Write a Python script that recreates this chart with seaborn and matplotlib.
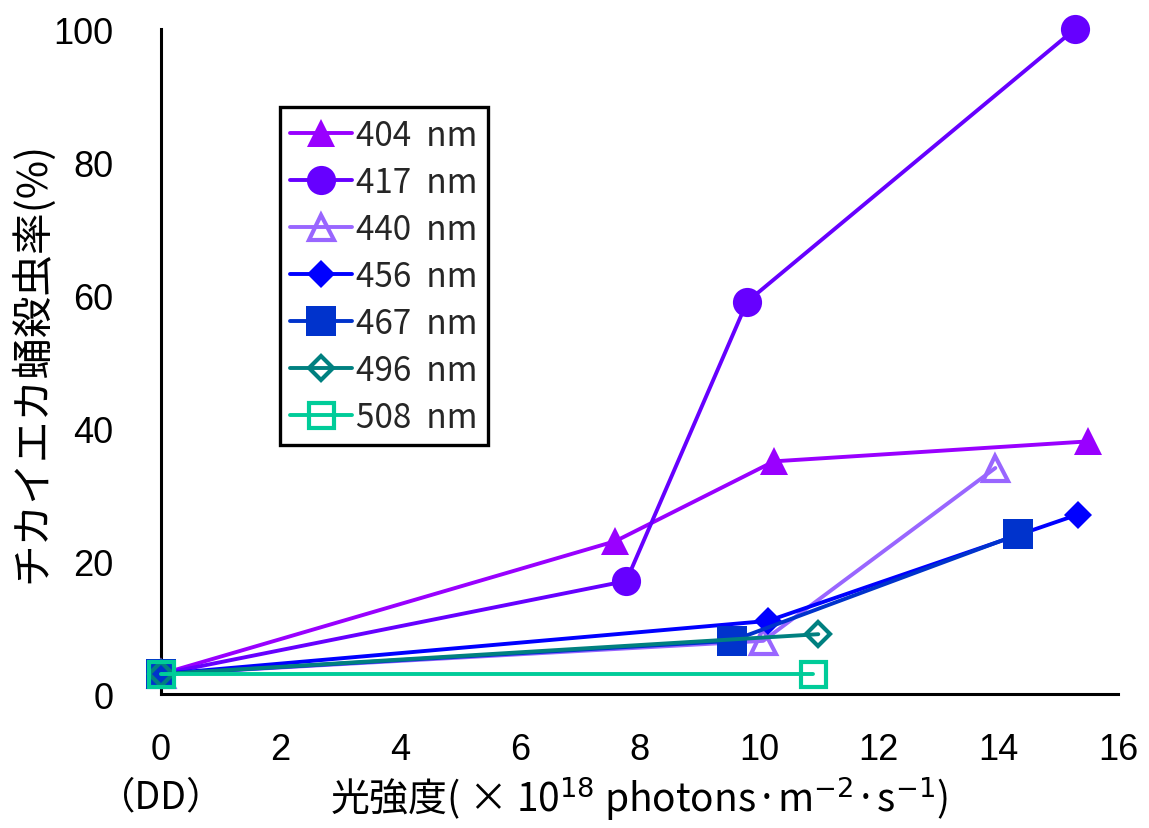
import matplotlib
matplotlib.use("Agg")
import matplotlib.pyplot as plt
import seaborn as sns
import pandas as pd

sns.set_theme(style="white")
plt.rcParams['font.family'] = ['Noto Sans CJK JP', 'DejaVu Sans']
plt.rcParams['mathtext.fontset'] = 'dejavusans'

# ---- data ----
labels = ["404 nm", "417 nm", "440 nm", "456 nm", "467 nm", "496 nm", "508 nm"]
x_404 = [0, 7.6, 10.25, 15.5]
y_404 = [3, 23, 35, 38]
x_417 = [0, 7.78, 9.8, 15.28]
y_417 = [3, 17, 59, 100]
x_440 = [0, 10.07, 13.95]
y_440 = [3, 8, 34]
x_456 = [0, 10.15, 15.33]
y_456 = [3, 11, 27]
x_467 = [0, 9.55, 14.33]
y_467 = [3, 8, 24]
x_496 = [0, 10.99]
y_496 = [3, 9]
x_508 = [0, 10.9]
y_508 = [3, 3]
xticks = [0, 2, 4, 6, 8, 10, 12, 14, 16]
yticks = [0, 20, 40, 60, 80, 100]

series = [
    (x_404, y_404, dict(color="#9900FF", marker="^", markersize=20, markerfacecolor="#9900FF", markeredgewidth=0)),
    (x_417, y_417, dict(color="#6600FF", marker="o", markersize=21, markerfacecolor="#6600FF", markeredgewidth=0)),
    (x_440, y_440, dict(color="#9966FF", marker="^", markersize=18, markerfacecolor="none", markeredgewidth=3)),
    (x_456, y_456, dict(color="#0000FF", marker="D", markersize=14, markerfacecolor="#0000FF", markeredgewidth=0)),
    (x_467, y_467, dict(color="#0033CC", marker="s", markersize=21, markerfacecolor="#0033CC", markeredgewidth=0)),
    (x_496, y_496, dict(color="#008080", marker="D", markersize=12, markerfacecolor="none", markeredgewidth=3)),
    (x_508, y_508, dict(color="#00CC99", marker="s", markersize=18, markerfacecolor="none", markeredgewidth=3)),
]

fig = plt.figure(figsize=(11.49, 8.29), dpi=100)
ax = fig.add_axes([0.140, 0.1616, 0.833, 0.802])

for (xs, ys, st), lab in zip(series, labels):
    df = pd.DataFrame({"x": xs, "y": ys})
    sns.lineplot(data=df, x="x", y="y", ax=ax, label=lab, linewidth=2.8,
                 markeredgecolor=st["color"], clip_on=False, zorder=3, **st)

ax.set_xlim(0, 16)
ax.set_ylim(0, 100)
ax.set_xticks(xticks)
ax.set_yticks(yticks)
for s in ["top", "right"]:
    ax.spines[s].set_visible(False)
for s in ["left", "bottom"]:
    ax.spines[s].set_color("black")
    ax.spines[s].set_linewidth(2.2)
ax.tick_params(axis="x", direction="out", length=11, width=1.8, color="black", pad=16)
ax.tick_params(axis="y", length=0, pad=34)
for t in ax.get_xticklabels() + ax.get_yticklabels():
    t.set_fontfamily(["Liberation Sans", "DejaVu Sans"])
    t.set_fontsize(26)
    t.set_color("black")

ax.set_xlabel("光強度( × 10$^{18}$ photons·m$^{-2}$·s$^{-1}$)", fontsize=28, color="black", labelpad=5)
ax.set_ylabel("チカイエカ蛹殺虫率(%)", fontsize=30, color="black", labelpad=0)
ax.text(0, -0.155, "（DD）", transform=ax.get_xaxis_transform(), ha="center", va="center",
        fontsize=27, color="black")

leg = ax.legend(loc="upper left", bbox_to_anchor=(0.124, 0.883), borderaxespad=0,
                fontsize=24, frameon=True, fancybox=False, framealpha=1, handlelength=1.85,
                handletextpad=0.12, labelspacing=0.36, borderpad=0.32)
leg.get_frame().set_edgecolor("black")
leg.get_frame().set_linewidth(2.4)
for t in leg.get_texts():
    t.set_text(t.get_text().replace(" ", "  "))

fig.savefig("out.png", dpi=100)
